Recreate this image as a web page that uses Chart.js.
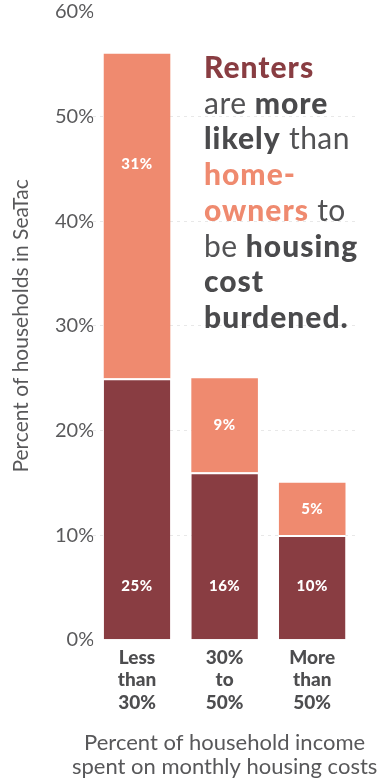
<!DOCTYPE html>
<html>
<head>
<meta charset="utf-8">
<script src="https://cdn.jsdelivr.net/npm/chart.js@4/dist/chart.umd.min.js"></script>
<style>
  html, body { margin: 0; padding: 0; background: #fff; }
  #wrap { width: 382px; height: 782px; }
</style>
</head>
<body>
<div id="wrap"><canvas id="chart" width="382" height="782"></canvas></div>
<script>
// share of SeaTac households by housing cost burden
const categories = [['Less', 'than', '30%'], ['30%', 'to', '50%'], ['More', 'than', '50%']];
const renters = [25, 16, 10];
const homeowners = [31, 9, 5];
const yTicks = [0, 10, 20, 30, 40, 50, 60];
const xTitle = ['Percent of household income', 'spent on monthly housing costs'];

const DARK_RED = '#893d42';
const SALMON = '#ef8a6f';
const GRAY = '#4a4a4c';
const LIGHT = '#525254';

// white value labels inside each segment
const segmentLabels = {
    id: 'segmentLabels',
    afterDatasetsDraw(chart) {
        const ctx = chart.ctx;
        ctx.save();
        ctx.fillStyle = '#fff';
        ctx.font = '900 15px Lato';
        ctx.letterSpacing = '0.5px';
        ctx.textAlign = 'center';
        ctx.textBaseline = 'middle';
        chart.getDatasetMeta(0).data.forEach((bar, i) => {
            ctx.fillText(renters[i] + '%', bar.x, bar.base - 53);
        });
        chart.getDatasetMeta(1).data.forEach((bar, i) => {
            const mid = (bar.y + bar.base) / 2;
            ctx.fillText(homeowners[i] + '%', bar.x, Math.min(mid, bar.y + 110));
        });
        ctx.restore();
    }
};

// x axis title, drawn without the scale's width limit so it can run wider than the plot
const bottomTitle = {
    id: 'bottomTitle',
    afterDraw(chart) {
        const ctx = chart.ctx;
        const area = chart.chartArea;
        const cx = (area.left + area.right) / 2;
        ctx.save();
        ctx.font = '400 22px Lato';
        ctx.fillStyle = '#58585a';
        ctx.textAlign = 'center';
        ctx.textBaseline = 'middle';
        xTitle.forEach((line, i) => {
            ctx.fillText(line, cx, chart.height - 39 + i * 24);
        });
        ctx.restore();
    }
};

// headline text block on the right
const headline = {
    id: 'headline',
    afterDraw(chart) {
        const ctx = chart.ctx;
        const lines = [
            [['Renters', 900, DARK_RED]],
            [['are ', 400, LIGHT], ['more', 900, GRAY]],
            [['likely', 900, GRAY], [' than', 400, LIGHT]],
            [['home-', 900, SALMON]],
            [['owners', 900, SALMON], [' to', 400, LIGHT]],
            [['be ', 400, LIGHT], ['housing', 900, GRAY]],
            [['cost', 900, GRAY]],
            [['burdened.', 900, GRAY]]
        ];
        ctx.save();
        ctx.textBaseline = 'alphabetic';
        ctx.textAlign = 'left';
        lines.forEach((runs, i) => {
            let x = 204;
            const y = 78 + i * 35.7;
            runs.forEach(([text, weight, color]) => {
                ctx.font = weight + ' 30px Lato';
                ctx.letterSpacing = weight > 400 ? '1px' : '0.5px';
                ctx.fillStyle = color;
                ctx.fillText(text, x, y);
                x += ctx.measureText(text).width;
            });
        });
        ctx.restore();
    }
};

const ctx = document.getElementById('chart').getContext('2d');
const chart = new Chart(ctx, {
    type: 'bar',
    data: {
        labels: categories,
        datasets: [{
            label: 'Renters',
            data: renters,
            backgroundColor: DARK_RED,
            borderColor: '#fff',
            borderWidth: { top: 2, left: 0, right: 0, bottom: 0 },
            borderSkipped: false
        }, {
            label: 'Homeowners',
            data: homeowners,
            backgroundColor: SALMON,
            borderWidth: 0
        }]
    },
    options: {
        responsive: false,
        animation: false,
        layout: { padding: { left: 6, right: 26, top: 12, bottom: 61 } },
        plugins: {
            legend: { display: false },
            tooltip: { enabled: false }
        },
        datasets: {
            bar: { categoryPercentage: 1, barPercentage: 0.76 }
        },
        scales: {
            x: {
                stacked: true,
                grid: { display: false, drawTicks: false },
                border: { display: false },
                ticks: {
                    color: '#4d4d4f',
                    font: { family: 'Lato', size: 19, weight: 900, lineHeight: 1.18 },
                    padding: 7,
                    maxRotation: 0
                }
            },
            y: {
                stacked: true,
                min: 0,
                max: 60,
                afterBuildTicks(scale) {
                    scale.ticks = yTicks.map(v => ({ value: v }));
                },
                grid: {
                    drawTicks: false,
                    color: c => (c.tick && c.tick.value > 0 && c.tick.value < 60) ? 'rgba(0,0,0,0.09)' : 'rgba(0,0,0,0)',
                    lineWidth: 1
                },
                border: { display: false, dash: [3, 4] },
                ticks: {
                    color: '#5a5a5c',
                    font: { family: 'Lato', size: 20, weight: 400 },
                    padding: -1,
                    callback: v => v + '%'
                },
                title: {
                    display: true,
                    text: 'Percent of households in SeaTac',
                    color: '#58585a',
                    font: { family: 'Lato', size: 21, weight: 400, lineHeight: 1.2 },
                    padding: { top: 2.4, bottom: 22.4 }
                }
            }
        }
    },
    plugins: [segmentLabels, bottomTitle, headline]
});
</script>
</body>
</html>
